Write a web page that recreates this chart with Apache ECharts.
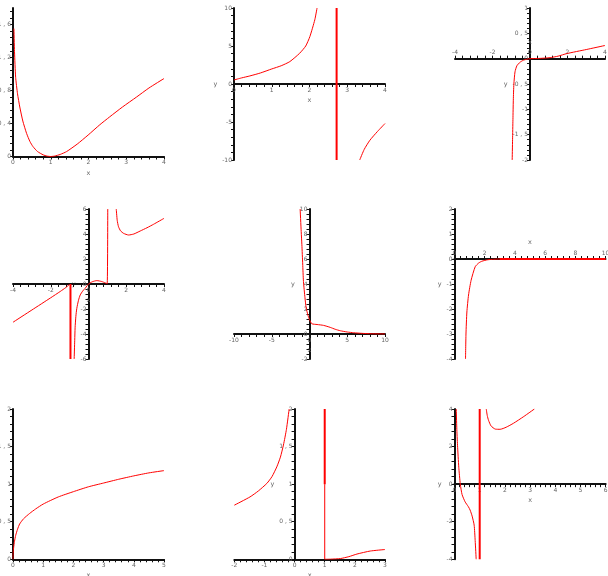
<!DOCTYPE html>
<html><head><meta charset="utf-8">
<script src="https://cdn.jsdelivr.net/npm/echarts@6/dist/echarts.min.js"></script>
<style>html,body{margin:0;padding:0;background:#fff}#c{width:608px;height:576px}</style>
</head><body><div id="c"></div>
<script>
// ---------- Panel 1 ----------
const p1x = [0.025,0.04,0.07,0.12,0.18,0.26,0.36,0.45,0.53,0.65,0.8,0.9,1.0,1.1,1.25,1.42,1.7,1.99,2.3,2.56,2.9,3.27,3.6,4.0];
const p1y = [1.55,1.27,0.96,0.76,0.6,0.43,0.28,0.18,0.12,0.06,0.02,0.005,0,0.005,0.025,0.06,0.15,0.26,0.385,0.48,0.6,0.72,0.83,0.945];
const p1xLabels = [0,1,2,3,4];
const p1yLabels = [0,0.4,0.8,1.2,1.6];
// ---------- Panel 2 ----------
const p2ax = [0,0.2,0.42,0.7,1.0,1.25,1.48,1.74,1.9,2.01,2.14,2.2];
const p2ay = [0.53,0.8,1.06,1.45,1.98,2.4,2.95,4.05,5.0,6.24,8.44,10];
const p2bx = [3.33,3.45,3.6,3.8,4.0];
const p2by = [-10,-8.6,-7.4,-6.25,-5.2];
const p2vx = [2.718,2.718];
const p2vy = [-10,10];
const p2xLabels = [0,1,2,3,4];
const p2yLabels = [-10,-5,0,5,10];
// ---------- Panel 3 ----------
const p3x = [-0.95,-0.93,-0.91,-0.89,-0.86,-0.8,-0.7,-0.53,-0.35,-0.15,0,0.5,1.07,1.5,1.96,3,4];
const p3y = [-2,-1.6,-1.2,-0.82,-0.5,-0.26,-0.14,-0.07,-0.03,-0.01,0,0.005,0.02,0.05,0.1,0.18,0.26];
const p3xLabels = [-4,-2,0,2,4];
const p3yLabels = [-2,-1.5,-1,-0.5,0,0.5,1];
// ---------- Panel 4 ----------
const p4ax = [-4,-3,-2,-1.5,-1.2,-1.02];
const p4ay = [-3.06,-2.08,-1.1,-0.6,-0.28,-0.05];
const p4bx = [-0.76,-0.73,-0.71,-0.67,-0.62,-0.53,-0.44,-0.3,-0.18,-0.08,0];
const p4by = [-6,-4.5,-3.5,-2.6,-1.95,-1.3,-0.88,-0.55,-0.35,-0.15,0];
const p4cx = [0,0.2,0.44,0.7,0.9,0.99,1.02];
const p4cy = [0,0.18,0.27,0.2,0.08,0.03,6];
const p4dx = [1.47,1.52,1.59,1.7,1.86,2.12,2.4,2.74,3.1,3.45,4];
const p4dy = [6,5.1,4.58,4.25,4.05,3.92,4.0,4.24,4.5,4.78,5.25];
const p4vx = [-0.955,-0.955];
const p4vy = [0,-6];
const p4xLabels = [-4,-2,0,2,4];
const p4yLabels = [-6,-4,-2,0,2,4,6];
// ---------- Panel 5 ----------
const p5x = [-1.24,-1.1,-1.01,-0.9,-0.8,-0.6,-0.44,-0.2,0,0.31,1,1.86,2.75,3.4,4.08,5,5.85,7,8.2,10];
const p5y = [10,8.2,7.14,5.6,4.2,2.9,2.08,1.5,1.14,0.82,0.76,0.69,0.53,0.38,0.26,0.16,0.1,0.05,0.02,0.005];
const p5xLabels = [-10,-5,0,5,10];
const p5yLabels = [-2,0,2,4,6,8,10];
// ---------- Panel 6 ----------
const p6x = [0.73,0.76,0.82,0.93,1.1,1.37,1.6,1.81,2.2,2.6,3,10];
const p6y = [-4,-3,-2.12,-1.44,-0.85,-0.31,-0.16,-0.09,-0.03,-0.01,0,0];
const p6fx = [3,10];
const p6fy = [0,0];
const p6xLabels = [0,2,4,6,8,10];
const p6yLabels = [-4,-3,-2,-1,0,1,2];
// ---------- Panel 7 ----------
const p7x = [0,0.005,0.02,0.05,0.09,0.15,0.22,0.35,0.55,0.75,1,1.5,2,2.5,3,3.5,4,4.5,5];
const p7y = [0,0.08,0.15,0.24,0.32,0.4,0.47,0.54,0.61,0.67,0.735,0.83,0.9,0.965,1.015,1.065,1.11,1.15,1.18];
const p7xLabels = [0,1,2,3,4,5];
const p7yLabels = [0,0.5,1,1.5,2];
// ---------- Panel 8 ----------
const p8ax = [-2,-1.48,-1.2,-0.92,-0.75,-0.59,-0.47,-0.37,-0.27,-0.18];
const p8ay = [0.72,0.83,0.91,1.01,1.1,1.23,1.36,1.52,1.73,2];
const p8bx = [1,1.2,1.52,1.8,2.07,2.51,3];
const p8by = [0,0.002,0.01,0.035,0.07,0.11,0.13];
const p8vx = [1,1];
const p8vy = [1,2];
const p8wx = [1,1];
const p8wy = [0,1];
const p8xLabels = [-2,-1,0,1,2,3];
const p8yLabels = [0,0.5,1,1.5,2];
// ---------- Panel 9 ----------
const p9ax = [0.07,0.09,0.12,0.17,0.23,0.3,0.42,0.55,0.62,0.7,0.78,0.82,0.86];
const p9ay = [4,3,2.07,0.9,0,-0.55,-0.94,-1.2,-1.38,-1.7,-2.18,-3,-4];
const p9bx = [1.26,1.3,1.35,1.45,1.62,1.81,2.05,2.34,2.75,3.17];
const p9by = [4,3.65,3.4,3.1,2.93,2.92,3.03,3.24,3.6,4];
const p9vx = [1,1];
const p9vy = [-4,4];
const p9xLabels = [0,1,2,3,4,5,6];
const p9yLabels = [-4,-2,0,2,4];

function zip(xs, ys){ return xs.map((x,i)=>[x, ys[i]]); }
function ticks(a,b,s){ const r=[]; const n=Math.round((b-a)/s); for(let i=0;i<=n;i++) r.push(+(a+i*s).toFixed(6)); return r; }
const fmt = v => String(v).replace('.', ' , ');

const LC = '#666', AX = '#111';
// panel layouts: [left, top, width, height]
const panels = [
  {g:[13,8,151,148.5], x:[0,4], y:[0,1.8], xl:p1xLabels, yl:p1yLabels, xs:0.2, ys:0.08},
  {g:[234,8,151,152], x:[0,4], y:[-10,10], xl:p2xLabels, yl:p2yLabels, xs:0.2, ys:1},
  {g:[455,8,150,152], x:[-4,4], y:[-2,1], xl:p3xLabels, yl:p3yLabels, xs:0.4, ys:0.1, top:true},
  {g:[13,209,151,150], x:[-4,4], y:[-6,6], xl:p4xLabels, yl:p4yLabels, xs:0.4, ys:0.4},
  {g:[234,209,151,150], x:[-10,10], y:[-2,10], xl:p5xLabels, yl:p5yLabels, xs:1, ys:0.4},
  {g:[454.5,209,151,150], x:[0,10], y:[-4,2], xl:p6xLabels, yl:p6yLabels, xs:0.4, ys:0.2, top:true},
  {g:[13,409,151,150.3], x:[0,5], y:[0,2], xl:p7xLabels, yl:p7yLabels, xs:0.2, ys:0.1},
  {g:[234.3,409,150.7,150.3], x:[-2,3], y:[0,2], xl:p8xLabels, yl:p8yLabels, xs:0.2, ys:0.1},
  {g:[454.5,409,151.2,150.3], x:[0,6], y:[-4,4], xl:p9xLabels, yl:p9yLabels, xs:0.2, ys:0.4}
];

const grid=[], xAxis=[], yAxis=[];
panels.forEach((p,i)=>{
  const [L,T,W,H] = p.g;
  grid.push({left:L, top:T, width:W, height:H, containLabel:false, outerBoundsMode:'none'});
  const fy = (0 - p.y[0])/(p.y[1]-p.y[0]);
  const fx = (0 - p.x[0])/(p.x[1]-p.x[0]);
  const xOff = p.top ? -(1-fy)*H : -fy*H;
  const yOff = -fx*W;
  xAxis.push({
    type:'value', gridIndex:i, min:p.x[0], max:p.x[1], position: p.top?'top':'bottom', offset:xOff,
    axisLine:{show:true, onZero:false, lineStyle:{color:AX, width:2}},
    axisTick:{show:true, customValues:ticks(p.x[0],p.x[1],p.xs), length:3, lineStyle:{color:AX,width:1}},
    axisLabel:{show:true, customValues:p.xl, formatter:fmt, fontSize:6, color:LC, margin:3, fontFamily:'DejaVu Sans', hideOverlap:false},
    splitLine:{show:false},
    name:'x', nameLocation:'middle', nameGap:13, nameTextStyle:{fontSize:6.5, color:LC, fontFamily:'DejaVu Sans'}
  });
  yAxis.push({
    type:'value', gridIndex:i, min:p.y[0], max:p.y[1], position:'left', offset:yOff,
    axisLine:{show:true, onZero:false, lineStyle:{color:AX, width:2}},
    axisTick:{show:true, customValues:ticks(p.y[0],p.y[1],p.ys), length:3, lineStyle:{color:AX,width:1}},
    axisLabel:{show:true, customValues:p.yl, formatter:fmt, fontSize:6, color:LC, margin:2, fontFamily:'DejaVu Sans', hideOverlap:false},
    splitLine:{show:false},
    name:'y', nameLocation:'middle', nameRotate:0, nameGap:12, nameTextStyle:{fontSize:6.5, color:LC, fontFamily:'DejaVu Sans'}
  });
});

function curve(i, xs, ys, w, smooth){
  return {type:'line', xAxisIndex:i, yAxisIndex:i, data:zip(xs,ys), showSymbol:false, symbol:'none',
    smooth: smooth===undefined?0.2:smooth, clip:true, animation:false,
    lineStyle:{color:'#ff0000', width:w||1}, z:5};
}
const series = [
  curve(0,p1x,p1y),
  curve(1,p2ax,p2ay), curve(1,p2bx,p2by), curve(1,p2vx,p2vy,2,false),
  curve(2,p3x,p3y),
  curve(3,p4ax,p4ay), curve(3,p4bx,p4by), curve(3,p4cx,p4cy), curve(3,p4dx,p4dy), curve(3,p4vx,p4vy,2,false),
  curve(4,p5x,p5y),
  curve(5,p6x,p6y), curve(5,p6fx,p6fy,2,false),
  curve(6,p7x,p7y),
  curve(7,p8ax,p8ay), curve(7,p8bx,p8by), curve(7,p8vx,p8vy,2,false), curve(7,p8wx,p8wy,1,false),
  curve(8,p9ax,p9ay), curve(8,p9bx,p9by), curve(8,p9vx,p9vy,2,false)
];

const chart = echarts.init(document.getElementById('c'), null, {renderer:'canvas'});
chart.setOption({animation:false, backgroundColor:'#fff', grid, xAxis, yAxis, series});
</script></body></html>
